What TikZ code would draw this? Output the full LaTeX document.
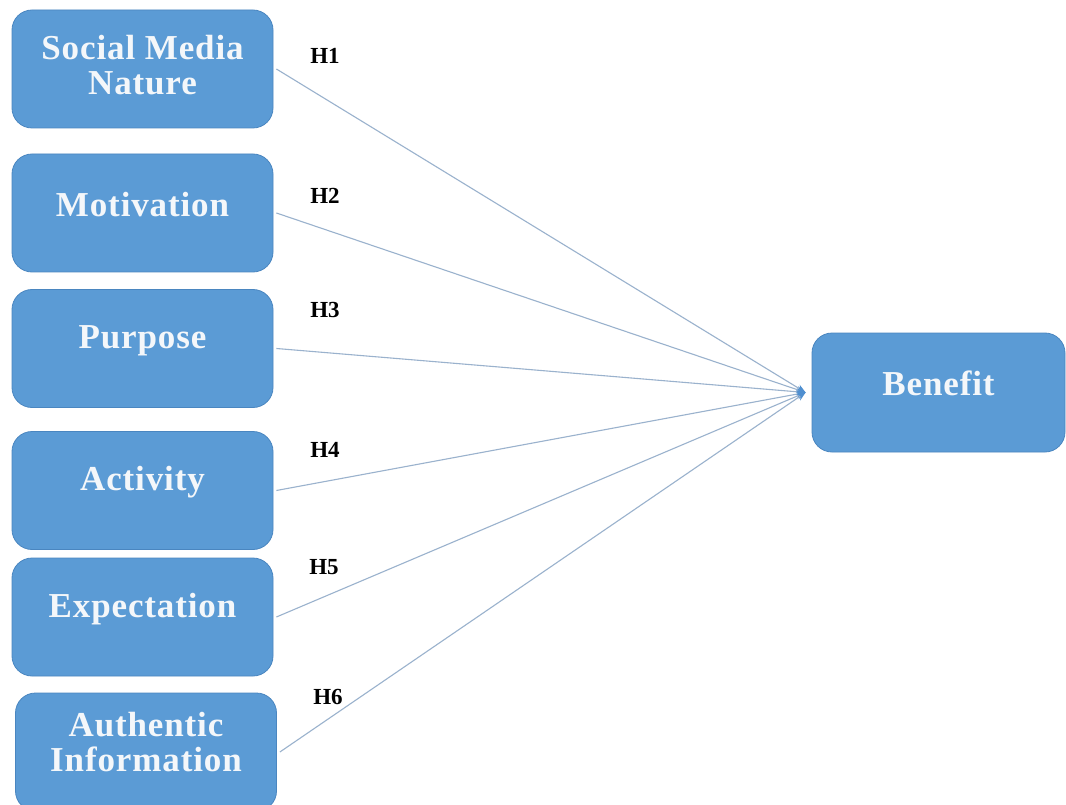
\documentclass[tikz,border=0pt]{standalone}
\usepackage{fontspec}
\setmainfont{Liberation Serif}
\newfontfamily\boxfont[LetterSpace=2.5]{Liberation Serif}
\usetikzlibrary{arrows.meta}
\definecolor{boxblue}{HTML}{5B9BD5}
\definecolor{boxedge}{HTML}{4A86C0}
\definecolor{linegray}{HTML}{9AB2CD}
\definecolor{tipblue}{HTML}{4F8FD0}
\definecolor{txtwhite}{HTML}{F4F7FA}
\tikzset{
  box/.style={draw=boxedge, line width=0.8pt, fill=boxblue, rounded corners=20pt,
    minimum width=261pt, minimum height=118pt, inner sep=0pt},
  boxtext/.style={text=txtwhite, font=\boxfont\bfseries\fontsize{35}{35}\selectfont, align=center, inner sep=0pt},
  hlabel/.style={font=\bfseries\fontsize{23}{23}\selectfont, text=black, inner sep=0pt},
  conn/.style={draw=linegray, line width=1.1pt, -{Stealth[length=9pt,width=7pt,color=tipblue]}}
}
\begin{document}
\begin{tikzpicture}[x=1pt,y=-1pt]
\useasboundingbox[fill=white] (0,0) rectangle (1066,805);
\node[box] (b1) at (142.5,69) {};
\node[box] (b2) at (142.5,213) {};
\node[box] (b3) at (142.5,348.5) {};
\node[box] (b4) at (142.5,490.5) {};
\node[box] (b5) at (142.5,617) {};
\node[box] (b6) at (146,752) {};
\node[box, minimum width=253pt, minimum height=119pt] (ben) at (938.5,392.5) {};
\node[boxtext] (t1) at ([yshift=4pt]b1.center) {Social Media\\Nature};
\node[boxtext] (t2) at ([yshift=8pt]b2.center) {Motivation};
\node[boxtext] (t3) at ([yshift=8pt]b3.center) {Purpose};
\node[boxtext] (t4) at ([yshift=8pt]b4.center) {Activity};
\node[boxtext] (t5) at ([yshift=8pt]b5.center) {Expectation};
\node[boxtext] (t6) at ([yshift=10pt]b6.center) {Authentic\\Information};
\node[boxtext] (tb) at ([yshift=9pt]ben.center) {Benefit};
\coordinate (tip) at ([xshift=-6pt]ben.west);
\foreach \i in {1,...,6} {
  \draw[conn] ([xshift=3pt]b\i.east) -- (tip);
}
\node[hlabel] (h1) at (325,56) {H1};
\node[hlabel] (h2) at (325,196) {H2};
\node[hlabel] (h3) at (325,310) {H3};
\node[hlabel] (h4) at (325,450) {H4};
\node[hlabel] (h5) at (324,567) {H5};
\node[hlabel] (h6) at (328,697) {H6};
\end{tikzpicture}
\end{document}
